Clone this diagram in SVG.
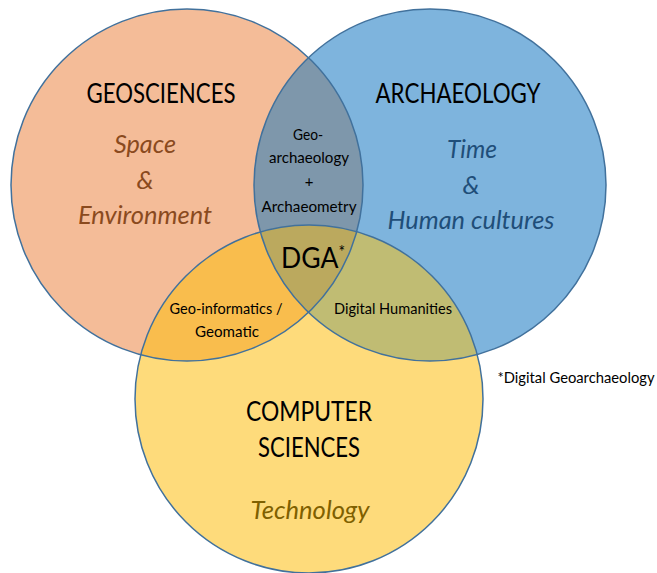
<svg xmlns="http://www.w3.org/2000/svg" width="657" height="573" viewBox="0 0 657 573">
<defs>
<style>
.t{font-family:Lato,"Liberation Sans",sans-serif;text-anchor:middle}
.h{font-size:27px;fill:#000}
.s{font-size:26px;font-style:italic}
.o{font-size:15px;fill:#000}
.ring{fill:none;stroke:#41719C;stroke-width:1.5}
</style>
<clipPath id="cL"><circle cx="187" cy="185" r="176"/></clipPath>
<clipPath id="cR"><circle cx="430" cy="185" r="176"/></clipPath>
</defs>
<rect width="657" height="573" fill="#fff"/>
<g id="geosciences">
<circle cx="187" cy="185" r="176" fill="#F4BC98"/>
</g>
<g id="archaeology">
<circle cx="430" cy="185" r="176" fill="#7EB4DD"/>
</g>
<g id="computer-sciences">
<circle cx="309" cy="399" r="174" fill="#FEDB7B"/>
</g>
<g id="overlaps">
<g clip-path="url(#cL)"><circle cx="430" cy="185" r="176" fill="#7E97AB"/></g>
<g clip-path="url(#cL)"><circle cx="309" cy="399" r="174" fill="#F9BD4D"/></g>
<g clip-path="url(#cR)"><circle cx="309" cy="399" r="174" fill="#C0BC73"/></g>
<g clip-path="url(#cL)"><g clip-path="url(#cR)"><circle cx="309" cy="399" r="174" fill="#BBA95E"/></g></g>
</g>
<g id="outlines">
<circle class="ring" cx="187" cy="185" r="176"/>
<circle class="ring" cx="430" cy="185" r="176"/>
<circle class="ring" cx="309" cy="399" r="174"/>
</g>
<g id="geosciences-labels">
<text class="t h" x="161" y="103" textLength="149" lengthAdjust="spacingAndGlyphs">GEOSCIENCES</text>
<text class="t s" x="145" y="153" fill="#8A4A1E" textLength="62" lengthAdjust="spacingAndGlyphs">Space</text>
<text class="t s" x="145" y="189" fill="#8A4A1E">&amp;</text>
<text class="t s" x="145" y="224" fill="#8A4A1E" textLength="134" lengthAdjust="spacingAndGlyphs">Environment</text>
</g>
<g id="archaeology-labels">
<text class="t h" x="458" y="103" textLength="165" lengthAdjust="spacingAndGlyphs">ARCHAEOLOGY</text>
<text class="t s" x="472" y="158" fill="#1F4E79" textLength="50" lengthAdjust="spacingAndGlyphs">Time</text>
<text class="t s" x="471" y="194" fill="#1F4E79">&amp;</text>
<text class="t s" x="471" y="229" fill="#1F4E79" textLength="167" lengthAdjust="spacingAndGlyphs">Human cultures</text>
</g>
<g id="computer-labels">
<text class="t h" x="309" y="421" textLength="126" lengthAdjust="spacingAndGlyphs">COMPUTER</text>
<text class="t h" x="309" y="457" textLength="102" lengthAdjust="spacingAndGlyphs">SCIENCES</text>
<text class="t s" x="310" y="519" fill="#7F6000" textLength="119" lengthAdjust="spacingAndGlyphs">Technology</text>
</g>
<g id="geoarchaeology">
<text class="t o" x="308" y="140" textLength="30" lengthAdjust="spacingAndGlyphs">Geo-</text>
<text class="t o" x="309" y="163" textLength="80" lengthAdjust="spacingAndGlyphs">archaeology</text>
<text class="t o" x="309" y="187">+</text>
<text class="t o" x="309" y="212" textLength="95" lengthAdjust="spacingAndGlyphs">Archaeometry</text>
</g>
<g id="geoinformatics">
<text class="t o" x="226" y="314" textLength="113" lengthAdjust="spacingAndGlyphs">Geo-informatics /</text>
<text class="t o" x="227" y="337" textLength="64" lengthAdjust="spacingAndGlyphs">Geomatic</text>
</g>
<g id="digital-humanities">
<text class="t o" x="393" y="314" textLength="118" lengthAdjust="spacingAndGlyphs">Digital Humanities</text>
</g>
<g id="dga">
<text class="t" x="313" y="268" font-size="29" fill="#000" textLength="64" lengthAdjust="spacingAndGlyphs">DGA<tspan dy="-10" font-size="17">*</tspan></text>
</g>
<g id="footnote">
<text class="t o" x="576" y="383" textLength="157" lengthAdjust="spacingAndGlyphs">*Digital Geoarchaeology</text>
</g>
</svg>
